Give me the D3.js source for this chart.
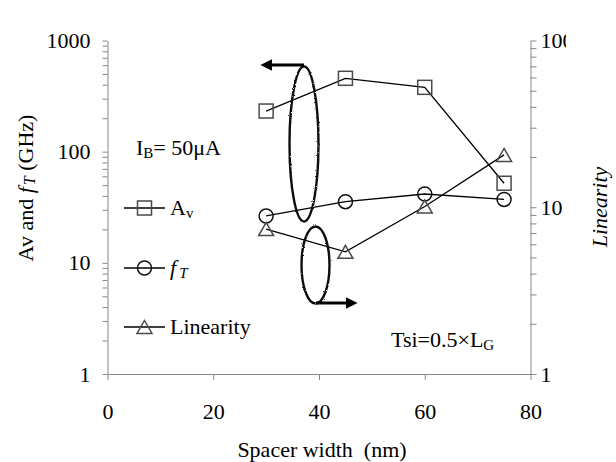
<!DOCTYPE html>
<html><head><meta charset="utf-8">
<script src="https://cdn.jsdelivr.net/npm/d3@7"></script>
<style>
body{margin:0;background:#fff;}
svg{display:block;font-family:"Liberation Serif","Times New Roman",serif;}
</style></head>
<body><svg id="c" width="616" height="462"></svg>
<script>
const spacer = [30, 45, 60, 75];
const av = [232, 457, 379, 52];
const ft = [26.4, 35.5, 41.6, 37.2];
const linearity = [7.4, 5.4, 10.1, 20.6];
const xTicks = [0, 20, 40, 60, 80];
const leftMajor = [1, 10, 100, 1000];
const rightMajor = [1, 10, 100];

const svg = d3.select("#c");
const FS = 22;
const SUB = 15;
const axisCol = "#868686";
const x = d3.scaleLinear().domain([0, 80]).range([107.5, 530.5]);
const yL = d3.scaleLog().domain([1, 1000]).range([374, 40.5]);
const yR = d3.scaleLog().domain([1, 100]).range([374, 40.5]);

function minorTicks(maxExp) {
  const t = [];
  for (let e = 0; e < maxExp; e++) for (let m = 1; m < 10; m++) t.push(m * Math.pow(10, e));
  t.push(Math.pow(10, maxExp));
  return t;
}
function styleAxis(g) {
  g.select(".domain").attr("stroke", axisCol).attr("stroke-width", 1);
  g.selectAll(".tick line").attr("stroke", axisCol).attr("stroke-width", 1);
  g.selectAll(".tick text").attr("fill", "#000").attr("font-size", FS).attr("font-family", "Liberation Serif, Times New Roman, serif");
}
const fmtMajor = (set) => (d) => set.includes(d) ? String(d) : "";

const defs = svg.append("defs");
defs.append("clipPath").attr("id", "rclip").append("rect").attr("x", 0).attr("y", 0).attr("width", 566).attr("height", 462);
const rough = defs.append("filter").attr("id", "rough").attr("x", "-20%").attr("y", "-20%").attr("width", "140%").attr("height", "140%");
rough.append("feTurbulence").attr("type", "fractalNoise").attr("baseFrequency", 0.9).attr("numOctaves", 2).attr("seed", 3).attr("result", "n");
rough.append("feDisplacementMap").attr("in", "SourceGraphic").attr("in2", "n").attr("scale", 2.2);
defs.append("marker").attr("id", "ah").attr("viewBox", "0 0 10 10").attr("refX", 2).attr("refY", 5)
  .attr("markerWidth", 4).attr("markerHeight", 4).attr("orient", "auto-start-reverse")
  .append("path").attr("d", "M0,0L10,5L0,10Z").attr("fill", "#000");

// left axis
const gL = svg.append("g").attr("transform", `translate(${x(0)},0)`)
  .call(d3.axisLeft(yL).tickValues(minorTicks(3)).tickSize(5).tickSizeOuter(0).tickPadding(12).tickFormat(fmtMajor(leftMajor)));
styleAxis(gL);

// right axis (label area clipped at right like the reference)
const gR = svg.append("g").attr("clip-path", "url(#rclip)").append("g").attr("transform", `translate(${x(80)},0)`)
  .call(d3.axisRight(yR).tickValues(minorTicks(2)).tickSize(6).tickSizeOuter(0).tickPadding(4).tickFormat(fmtMajor(rightMajor)));
styleAxis(gR);

// bottom axis
const gB = svg.append("g").attr("transform", `translate(0,374)`)
  .call(d3.axisBottom(x).tickValues(xTicks).tickSize(6).tickSizeOuter(0).tickPadding(23));
styleAxis(gB);

// axis titles
svg.append("text").attr("x", 322).attr("y", 457).attr("text-anchor", "middle").attr("font-size", FS).text("Spacer width\u00a0\u00a0(nm)");
const lt = svg.append("text").attr("transform", "translate(33,188) rotate(-90)").attr("text-anchor", "middle").attr("font-size", FS);
lt.append("tspan").text("Av and ");
lt.append("tspan").attr("font-style", "italic").text("f");
lt.append("tspan").attr("font-style", "italic").attr("font-size", SUB + 1).attr("dy", 2).attr("dx", 2).text("T");
lt.append("tspan").attr("dy", -2).text(" (GHz)");
svg.append("text").attr("transform", "translate(607,207) rotate(-90)").attr("text-anchor", "middle")
  .attr("font-size", FS).attr("font-style", "italic").text("Linearity");

// lines
const lineL = d3.line().x((d, i) => x(spacer[i])).y(d => yL(d));
const lineR = d3.line().x((d, i) => x(spacer[i])).y(d => yR(d));
[lineL(av), lineL(ft), lineR(linearity)].forEach(p =>
  svg.append("path").attr("d", p).attr("fill", "none").attr("stroke", "#000").attr("stroke-width", 1.3));

// markers
const S = 14;
function square(g, cx, cy) {
  g.append("rect").attr("x", cx - S / 2).attr("y", cy - S / 2).attr("width", S).attr("height", S)
    .attr("fill", "none").attr("stroke", "#4a4a4a").attr("stroke-width", 1.5);
}
function circle(g, cx, cy) {
  g.append("circle").attr("cx", cx).attr("cy", cy).attr("r", 7).attr("fill", "none").attr("stroke", "#111").attr("stroke-width", 1.5);
}
function tri(g, cx, cy) {
  const h = 13, w = 15;
  g.append("path").attr("d", `M${cx},${cy - h / 2}L${cx + w / 2},${cy + h / 2}L${cx - w / 2},${cy + h / 2}Z`)
    .attr("fill", "none").attr("stroke", "#4a4a4a").attr("stroke-width", 1.5);
}
const mk = svg.append("g");
av.forEach((d, i) => square(mk, x(spacer[i]), yL(d)));
ft.forEach((d, i) => circle(mk, x(spacer[i]), yL(d)));
linearity.forEach((d, i) => tri(mk, x(spacer[i]), yR(d)));

// legend
const lg = svg.append("g");
const ib = lg.append("text").attr("x", 136).attr("y", 155).attr("font-size", FS);
ib.append("tspan").text("I");
ib.append("tspan").attr("font-size", SUB).attr("dy", 3).text("B");
ib.append("tspan").attr("dy", -3).text("= 50\u03bcA");
const rows = [
  {y: 208, fn: square, label: "A", sub: "v", italic: false},
  {y: 268, fn: circle, label: "f", sub: "T", italic: true},
  {y: 327, fn: tri, label: "Linearity", sub: "", italic: false}
];
rows.forEach(r => {
  lg.append("line").attr("x1", 124).attr("x2", 165).attr("y1", r.y).attr("y2", r.y).attr("stroke", "#000").attr("stroke-width", 1.3);
  r.fn(lg, 144.5, r.y);
  const t = lg.append("text").attr("x", 170).attr("y", r.y + 7).attr("font-size", FS);
  t.append("tspan").attr("font-style", r.italic ? "italic" : "normal").text(r.label);
  if (r.sub) t.append("tspan").attr("font-size", SUB).attr("dy", 3).attr("dx", r.italic ? 3 : 0).attr("font-style", r.italic ? "italic" : "normal").text(r.sub);
});
const ts = lg.append("text").attr("x", 391).attr("y", 347).attr("font-size", FS);
ts.append("tspan").text("Tsi=0.5\u00d7L");
ts.append("tspan").attr("font-size", SUB).attr("dy", 3).text("G");

// ellipses and arrows
svg.append("ellipse").attr("cx", 304).attr("cy", 144).attr("rx", 14.5).attr("ry", 77.5)
  .attr("fill", "none").attr("stroke", "#111").attr("stroke-width", 2.4).attr("filter", "url(#rough)");
svg.append("ellipse").attr("cx", 315.5).attr("cy", 265).attr("rx", 14).attr("ry", 38.5)
  .attr("fill", "none").attr("stroke", "#111").attr("stroke-width", 2.4).attr("filter", "url(#rough)");
svg.append("line").attr("x1", 304).attr("y1", 65).attr("x2", 270).attr("y2", 65)
  .attr("stroke", "#000").attr("stroke-width", 3).attr("marker-end", "url(#ah)");
svg.append("line").attr("x1", 316).attr("y1", 303).attr("x2", 348).attr("y2", 303)
  .attr("stroke", "#000").attr("stroke-width", 3).attr("marker-end", "url(#ah)");
</script></body></html>
